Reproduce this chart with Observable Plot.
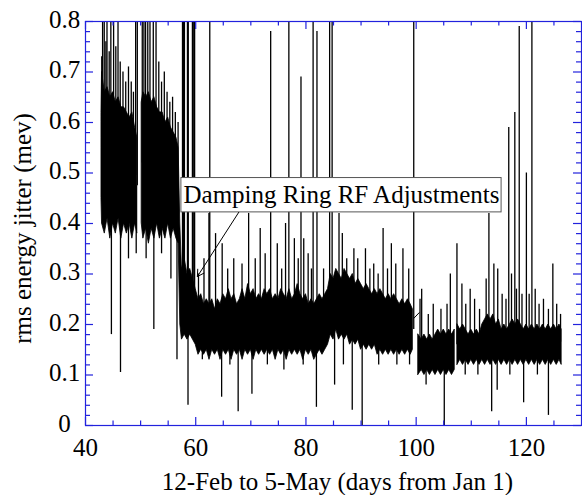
<!DOCTYPE html>
<html><head><meta charset="utf-8">
<script src="https://cdn.jsdelivr.net/npm/d3@7"></script>
<script src="https://cdn.jsdelivr.net/npm/@observablehq/plot@0.6"></script>
<style>
body{margin:0;background:#fff}
svg{font-family:"Liberation Serif","Times New Roman",serif}
</style>
</head><body><div id="chart"></div>
<script>
// Envelope of the dense jitter record (day, upper, lower); null = data gap
const bandDay = [
  42.9,43,43.5,44,44.5,45,45.5,46,46.5,47,47.5,48,48.5,49,49.4,
  49.8,
  50.2,50.5,51,51.5,52,52.5,53,53.5,54,54.5,55,55.5,56,56.5,56.9,57.2,
  57.5,58,58.5,59,59.5,60,60.5,61,61.5,62,
  62.5,63,63.5,64,64.5,65,65.5,66,66.5,67,
  67.5,68,68.5,69,69.5,70,70.5,71,71.5,72,
  72.5,73,73.5,74,74.5,75,75.5,76,76.5,77,
  77.5,78,78.5,79,79.5,80,80.5,81,81.5,82,
  82.5,83,83.5,84,84.5,85,85.5,86,86.5,87,
  87.5,88,88.5,89,89.5,90,90.5,91,91.5,92,
  92.5,93,93.5,94,94.5,95,95.5,96,96.5,97,
  97.5,98,98.5,99,99.4,
  99.9,
  100.4,101,101.5,102,102.5,103,103.5,104,104.5,105,105.5,106,106.5,107,
  107.25,
  107.5,108,108.5,109,109.5,110,110.5,111,111.5,112,
  112.5,113,113.5,114,114.5,115,115.5,116,116.5,117,
  117.5,118,118.5,119,119.5,120,120.5,121,121.5,122,
  122.5,123,123.5,124,124.5,125,125.5,126,126.4
];
const bandHigh = [
  .62,.70,.66,.67,.65,.66,.64,.65,.63,.63,.62,.61,.62,.59,.57,
  null,
  .64,.66,.65,.66,.64,.65,.63,.62,.62,.60,.61,.59,.58,.57,.55,.40,
  .31,.33,.30,.31,.29,.27,.25,.26,.24,.25,
  .24,.25,.23,.25,.24,.26,.25,.27,.25,.26,
  .24,.25,.27,.25,.28,.26,.27,.25,.26,.25,
  .27,.26,.27,.25,.26,.25,.27,.26,.25,.27,
  .25,.26,.28,.26,.25,.26,.24,.25,.24,.25,
  .26,.25,.26,.27,.30,.29,.31,.30,.29,.31,
  .30,.29,.30,.28,.29,.28,.27,.28,.27,.26,
  .27,.26,.27,.26,.25,.26,.25,.26,.25,.24,
  .25,.24,.25,.24,.23,
  null,
  .18,.17,.18,.17,.18,.17,.18,.19,.18,.19,.18,.19,.18,.19,
  null,
  .20,.19,.20,.19,.18,.19,.18,.19,.18,.20,
  .21,.22,.21,.22,.20,.21,.19,.20,.19,.20,
  .21,.20,.21,.20,.19,.20,.19,.20,.19,.20,
  .19,.20,.19,.20,.19,.20,.19,.20,.19
];
const bandLow = [
  .45,.40,.38,.41,.37,.40,.38,.41,.37,.40,.38,.40,.37,.40,.38,
  null,
  .40,.37,.39,.36,.39,.37,.40,.37,.39,.37,.40,.37,.39,.37,.36,.20,
  .17,.18,.17,.18,.17,.16,.14,.15,.14,.15,
  .13,.15,.14,.15,.13,.15,.14,.15,.13,.15,
  .14,.15,.13,.15,.14,.15,.13,.15,.14,.15,
  .14,.15,.14,.15,.13,.15,.14,.15,.13,.15,
  .14,.15,.14,.15,.13,.15,.14,.15,.13,.14,
  .15,.14,.15,.16,.18,.17,.19,.17,.18,.17,
  .18,.16,.17,.16,.17,.15,.16,.15,.16,.15,
  .16,.14,.15,.14,.15,.14,.15,.14,.15,.14,
  .15,.14,.15,.14,.15,
  null,
  .10,.11,.10,.11,.10,.11,.10,.11,.10,.11,.10,.11,.10,.11,
  null,
  .12,.13,.12,.13,.12,.13,.12,.13,.12,.13,
  .12,.13,.12,.13,.12,.13,.12,.13,.12,.13,
  .12,.13,.12,.13,.12,.13,.12,.13,.12,.13,
  .12,.13,.12,.13,.12,.13,.12,.13,.12
];

// Upward excursions (day, peak value); values above 0.8 run off the top
const spikeDay = [
  43.1,43.4,43.9,44.6,45.1,45.9,49.1,49.4,50.3,50.6,50.9,51.3,51.7,52.3,52.8,
  42.95,43.7,44.3,45.5,46.3,46.8,47.3,47.8,48.3,48.7,53.3,53.8,54.3,54.8,55.3,55.8,56.3,56.8,
  57.6,57.8,57.95,58.5,58.65,59.4,59.55,59.8,62.55,76.9,81.3,84.3,84.75,99.56,73.6,82.0,79.1,
  60.5,61.5,62.4,63.6,64.8,65.8,66.9,68.4,69.6,70.8,71.7,72.6,74.8,75.6,76.3,77.9,78.6,79.6,
  80.4,81.0,83.2,86.0,86.6,87.4,88.7,89.4,90.8,91.6,92.3,93.1,94.0,94.8,95.5,96.3,97.6,98.65,
  100.7,101.0,102.2,103.1,104.5,105.6,106.2,107.4,108.3,109.0,109.8,110.6,111.5,112.7,113.2,
  114.1,114.8,115.6,116.3,116.8,117.3,117.9,118.2,118.7,119.2,120.0,120.5,121.0,121.6,122.3,
  123.1,124.0,124.8,125.5,126.2
];
const spikeTop = [
  .85,.85,.85,.85,.85,.85,.85,.85,.85,.85,.85,.85,.85,.85,.85,
  .73,.76,.74,.75,.72,.70,.68,.71,.68,.66,.72,.68,.70,.66,.64,.65,.62,.60,
  .85,.85,.85,.85,.85,.85,.85,.85,.85,.85,.85,.85,.85,.85,.78,.78,.69,
  .30,.33,.42,.38,.36,.31,.33,.32,.42,.33,.39,.34,.36,.31,.40,.37,.33,.37,
  .34,.31,.31,.42,.38,.33,.35,.33,.35,.31,.32,.30,.39,.31,.36,.32,.35,.31,
  .25,.27,.22,.24,.23,.24,.30,.36,.28,.24,.27,.25,.23,.29,.42,
  .32,.31,.26,.25,.59,.30,.62,.27,.79,.26,.50,.26,.85,.27,.24,
  .25,.23,.32,.24,.22
];

// Downward excursions (day, lowest value)
const dipDay = [
  44.7,46.35,47.8,49.2,51.0,52.4,53.8,55.5,56.6,58.6,61.2,64.7,66.2,67.7,70.2,73.0,76.0,79.5,
  81.9,85.2,86.8,88.4,90.2,93.2,96.5,98.8,101.8,105.1,108.9,111.2,113.7,114.7,117.0,119.5,122.0,124.0
];
const dipBottom = [
  .18,.105,.33,.34,.33,.19,.34,.29,.13,.04,.13,.056,.12,.027,.062,.12,.11,.12,
  .036,.08,.12,.03,0,.12,.12,.12,.08,0,.10,.10,.027,.07,.10,.045,.10,.02
];

const xLabels = [40, 60, 80, 100, 120];
const xMinor = [45, 50, 55, 65, 70, 75, 85, 90, 95, 105, 110, 115, 125];
const yLabels = [0, 0.1, 0.2, 0.3, 0.4, 0.5, 0.6, 0.7, 0.8];
const yLabelText = ["0", "0.1", "0.2", "0.3", "0.4", "0.5", "0.6", "0.7", "0.8"];
const yMinor = [0.02,0.04,0.06,0.08,0.12,0.14,0.16,0.18,0.22,0.24,0.26,0.28,0.32,0.34,0.36,0.38,
  0.42,0.44,0.46,0.48,0.52,0.54,0.56,0.58,0.62,0.64,0.66,0.68,0.72,0.74,0.76,0.78];

const xTitle = "12-Feb to 5-May (days from Jan 1)";
const yTitle = "rms energy jitter (mev)";
const noteText = "Damping Ring RF Adjustments";
const noteBox = [{x1: 57.4, x2: 115.5, y1: 0.422, y2: 0.49}];
const noteArrow = [{x1: 67.8, y1: 0.422, x2: 60.3, y2: 0.295}];
const noteStub = [{x1: 99.55, y1: 0.212, x2: 100.6, y2: 0.224}];

// build tables
const band = bandDay.map((d, i) => ({day: d, hi: bandHigh[i], lo: bandLow[i]}));
const valid = band.filter(b => b.hi != null);
function baseAt(day) {
  let best = valid[0];
  for (const b of valid) if (Math.abs(b.day - day) < Math.abs(best.day - day)) best = b;
  return (best.hi + best.lo) / 2;
}
const spikes = spikeDay.map((d, i) => ({day: d, top: spikeTop[i], base: baseAt(d)}));
const dips = dipDay.map((d, i) => ({day: d, bottom: dipBottom[i], base: baseAt(d)}));

const blue = "#2222dd";
const W = 582, H = 495, mL = 85, mR = 1, mT = 21, mB = 70;
const fh = H - mT - mB, fw = W - mL - mR;

const chart = Plot.plot({
  width: W, height: H,
  marginLeft: mL, marginRight: mR, marginTop: mT, marginBottom: mB,
  x: {domain: [40, 130], axis: null},
  y: {domain: [0, 0.8], axis: null},
  style: {fontFamily: '"Liberation Serif","Times New Roman",serif', background: "#fff", overflow: "visible"},
  marks: [
    Plot.areaY(band, {x: "day", y1: "lo", y2: "hi", fill: "#000", stroke: "#000", strokeWidth: 0.8, curve: "linear", clip: true}),
    Plot.ruleX(spikes, {x: "day", y1: "base", y2: "top", stroke: "#000", strokeWidth: 1.3, clip: true}),
    Plot.ruleX(dips, {x: "day", y1: "base", y2: "bottom", stroke: "#000", strokeWidth: 1.3, clip: true}),
    Plot.frame({stroke: blue, strokeWidth: 1.2}),
    // inside ticks, bottom & top
    Plot.tickX(xLabels, {x: d => d, insetTop: fh - 8, stroke: blue, strokeWidth: 1.2}),
    Plot.tickX(xLabels, {x: d => d, insetBottom: fh - 8, stroke: blue, strokeWidth: 1.2}),
    Plot.tickX(xMinor, {x: d => d, insetTop: fh - 4.5, stroke: blue, strokeWidth: 1.2}),
    Plot.tickX(xMinor, {x: d => d, insetBottom: fh - 4.5, stroke: blue, strokeWidth: 1.2}),
    // inside ticks, left & right
    Plot.tickY(yLabels, {y: d => d, insetRight: fw - 8, stroke: blue, strokeWidth: 1.2}),
    Plot.tickY(yLabels, {y: d => d, insetLeft: fw - 8, stroke: blue, strokeWidth: 1.2}),
    Plot.tickY(yMinor, {y: d => d, insetRight: fw - 5, stroke: blue, strokeWidth: 1.2}),
    Plot.tickY(yMinor, {y: d => d, insetLeft: fw - 5, stroke: blue, strokeWidth: 1.2}),
    // tick labels
    Plot.text(xLabels, {x: d => d, frameAnchor: "bottom", lineAnchor: "middle", dy: 22, text: d => String(d), fontSize: 25, fill: "#000"}),
    Plot.text(yLabels, {y: d => d, frameAnchor: "left", dx: -21, dy: -2, text: (d, i) => yLabelText[i], fontSize: 25, fill: "#000", textAnchor: "middle"}),
    // titles
    Plot.text([xTitle], {frameAnchor: "bottom", lineAnchor: "middle", dx: 4, dy: 56, text: d => d, fontSize: 25, fill: "#000"}),
    Plot.text([yTitle], {frameAnchor: "left", textAnchor: "middle", lineAnchor: "middle", dx: -63, dy: 5, rotate: -90, text: d => d, fontSize: 25, fill: "#000"}),
    // annotation
    Plot.rect(noteBox, {x1: "x1", x2: "x2", y1: "y1", y2: "y2", fill: "#fff", stroke: "#555", strokeWidth: 1}),
    Plot.text(noteBox, {x: d => (d.x1 + d.x2) / 2, y: d => (d.y1 + d.y2) / 2, text: () => noteText, fontSize: 25, fill: "#000"}),
    Plot.arrow(noteArrow, {x1: "x1", y1: "y1", x2: "x2", y2: "y2", stroke: "#000", strokeWidth: 1, headLength: 11, bend: 0}),
    Plot.link(noteStub, {x1: "x1", y1: "y1", x2: "x2", y2: "y2", stroke: "#000", strokeWidth: 1})
  ]
});
document.getElementById("chart").appendChild(chart);
</script>
</body></html>
